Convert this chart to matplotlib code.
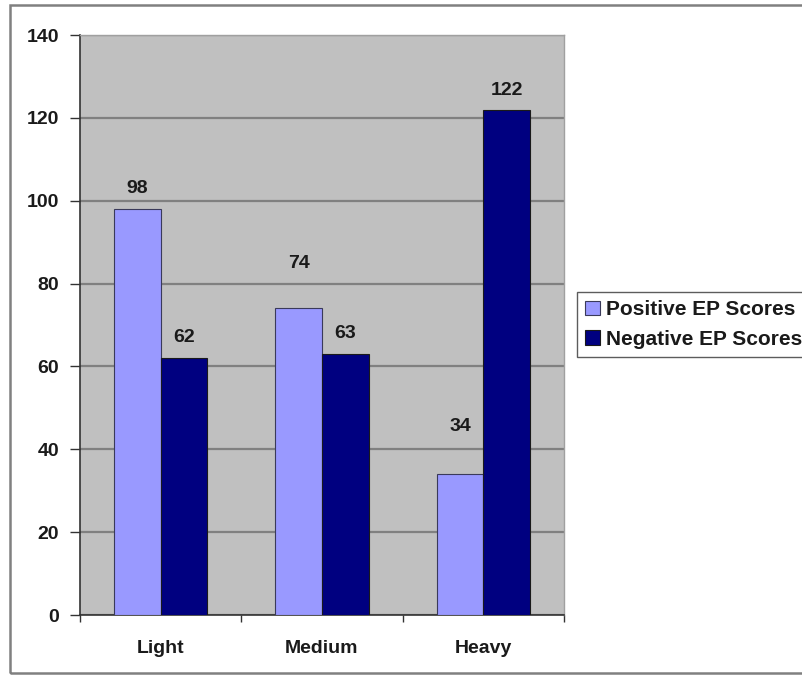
import matplotlib
matplotlib.use("Agg")
import matplotlib.pyplot as plt
from matplotlib.patches import Rectangle
import numpy as np

categories = ["Light", "Medium", "Heavy"]
positive = [98, 74, 34]
negative = [62, 63, 122]
series_names = ["Positive EP Scores", "Negative EP Scores"]
yticks = [0, 20, 40, 60, 80, 100, 120, 140]

W, H = 802, 675
fig = plt.figure(figsize=(W / 100, H / 100), dpi=100)
fig.patch.set_facecolor("white")

L, R, T, B = 80, 564, 35, 615
ax = fig.add_axes([L / W, 1 - B / H, (R - L) / W, (B - T) / H])
ax.set_facecolor("#C0C0C0")

font = "Liberation Sans"
fs = 14
fw = "bold"
tc = "#1a1a1a"
x = np.arange(len(categories))
bw = 0.29
b1 = ax.bar(x - bw / 2, positive, bw, color="#9999FF", edgecolor="#3a3a5a", linewidth=0.8, zorder=3, label=series_names[0])
b2 = ax.bar(x + bw / 2, negative, bw, color="#000080", edgecolor="#1a1a1a", linewidth=0.8, zorder=3, label=series_names[1])

# data labels (Excel-style, some moved higher)
pos_off = [21, 45, 48]
neg_off = [21, 21, 19]
for xi, v, off in zip(x - bw / 2, positive, pos_off):
    ax.annotate(str(v), (xi, v), xytext=(0, off), textcoords="offset pixels",
                ha="center", va="center", fontsize=fs, family=font, weight=fw, color=tc)
for xi, v, off in zip(x + bw / 2, negative, neg_off):
    ax.annotate(str(v), (xi, v), xytext=(0, off), textcoords="offset pixels",
                ha="center", va="center", fontsize=fs, family=font, weight=fw, color=tc)

ax.set_xlim(-0.5, len(categories) - 0.5)
ax.set_ylim(0, 140)
ax.set_yticks(yticks)
ax.set_yticklabels([str(t) for t in yticks], fontsize=fs, family=font, weight=fw, color=tc)
ax.yaxis.grid(True, color="#808080", linewidth=1.6, zorder=1)
ax.set_axisbelow(True)

ax.set_xticks(x)
ax.set_xticklabels(categories, fontsize=fs, family=font, weight=fw, color=tc)
ax.set_xticks(np.arange(len(categories) + 1) - 0.5, minor=True)
ax.tick_params(axis="x", which="major", length=0, pad=18)
ax.tick_params(axis="x", which="minor", length=5, width=1, color="#333333", direction="out")
ax.tick_params(axis="y", length=7, width=1, color="#333333", direction="out", pad=8)

for s in ["left", "bottom"]:
    ax.spines[s].set_color("#333333")
    ax.spines[s].set_linewidth(1.2)
for s in ["top", "right"]:
    ax.spines[s].set_color("#a0a0a0")
    ax.spines[s].set_linewidth(1.0)

leg = fig.legend(handles=[b1, b2], labels=series_names, loc="upper left",
                 bbox_to_anchor=(577 / W, 1 - 292 / H), frameon=True, fancybox=False,
                 prop={"family": font, "size": 15, "weight": fw}, handlelength=0.7, handleheight=0.7,
                 handletextpad=0.3, borderpad=0.4, labelspacing=0.5, borderaxespad=0)
leg.get_frame().set_edgecolor("#333333")
leg.get_frame().set_linewidth(1.0)
for t in leg.get_texts():
    t.set_color(tc)

# outer chart border
fig.add_artist(Rectangle((10 / W, 2 / H), (W + 20) / W, (H - 7) / H, transform=fig.transFigure,
                         fill=False, edgecolor="#808080", linewidth=1.8))

fig.savefig("out.png", dpi=100)
